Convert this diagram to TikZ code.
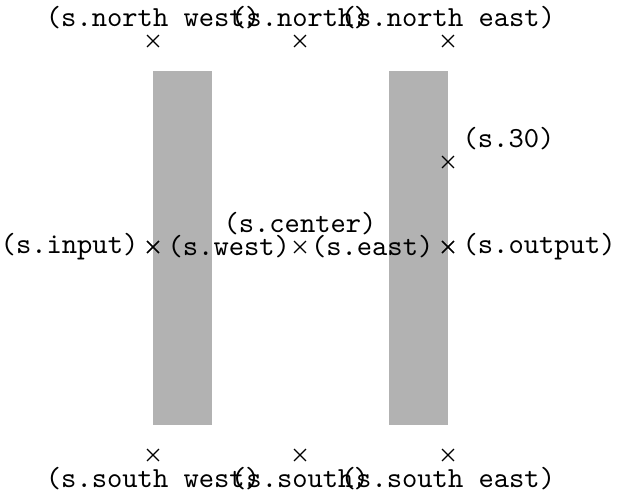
\documentclass[tikz,border=0pt]{standalone}
\tikzset{
  plate/.style={fill=black!30, draw=none},
  spot/.style={mark=x, mark size=3pt, line width=0.45pt},
  tag/.style={font=\fontsize{10.4}{12}\selectfont\ttfamily, inner xsep=5pt, inner ysep=4pt}
}
\begin{document}
\begin{tikzpicture}[x=0.357pt, y=-0.357pt]
  \useasboundingbox (0,0) rectangle (617,497);
  % the two plates
  \fill[plate] (153,71) rectangle (212,425);
  \fill[plate] (389,71) rectangle (448,425);
  % anchors
  \foreach \anc/\pos/\place [count=\i] in {
      north west/{(153,41)}/above, north/{(300,41)}/above, north east/{(448,41)}/above,
      30/{(448,162)}/above right,
      input/{(153,247)}/left, west/{(153,247)}/right, center/{(300,247)}/above,
      east/{(448,247)}/left, output/{(448,247)}/right,
      south west/{(153,455)}/below, south/{(300,455)}/below, south east/{(448,455)}/below}
    \draw[shift={\pos}] plot[spot] coordinates {(0,0)} node (tag\i) [tag, \place] {(s.\anc)};
\end{tikzpicture}
\end{document}
